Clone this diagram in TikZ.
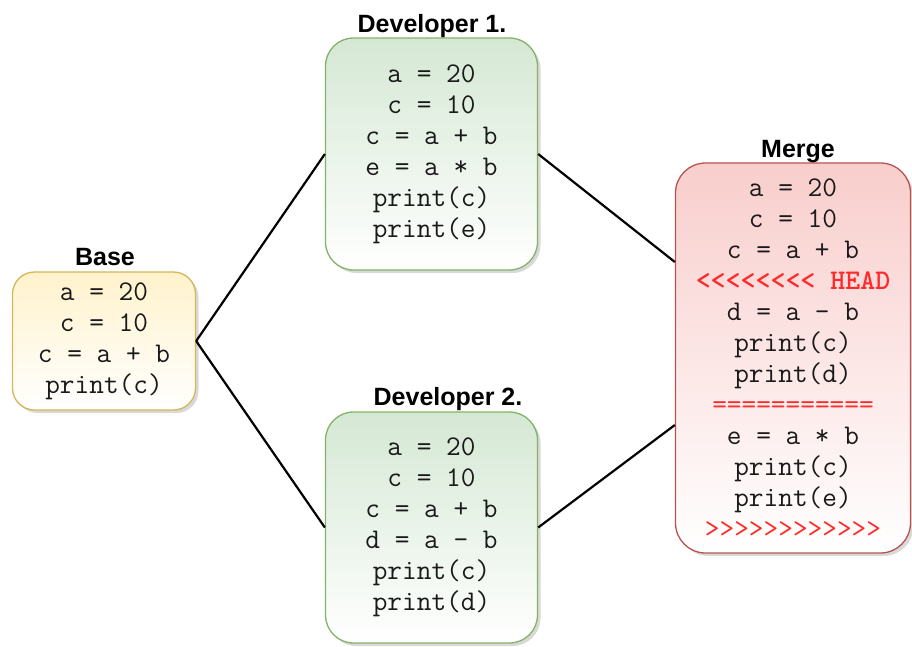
\documentclass[tikz,border=0pt]{standalone}
\usepackage{fontspec}
\setmainfont{Liberation Sans}
\usetikzlibrary{shadows}
\definecolor{basetop}{HTML}{FFF2CC}
\definecolor{baseline}{HTML}{D6B656}
\definecolor{devtop}{HTML}{D5E8D4}
\definecolor{devline}{HTML}{82B366}
\definecolor{mergetop}{HTML}{F8CECC}
\definecolor{mergeline}{HTML}{B85450}
\definecolor{conflict}{HTML}{FF2A2A}
\definecolor{codetext}{HTML}{1A1A1A}
\tikzset{
  codebox/.style={draw, line width=1.3pt, align=center, inner sep=0pt,
    font=\ttfamily\fontsize{28.5}{31}\selectfont, text=codetext,
    bottom color=white,
    drop shadow={shadow xshift=3pt, shadow yshift=-3pt, opacity=0.3, fill=gray}},
  basebox/.style={codebox, top color=basetop, draw=baseline, rounded corners=22pt},
  devbox/.style={codebox, top color=devtop, draw=devline, rounded corners=28pt},
  mergebox/.style={codebox, top color=mergetop, draw=mergeline, rounded corners=30pt},
  title/.style={font=\bfseries\fontsize{25}{28}\selectfont, anchor=base, text=black},
  link/.style={line width=2.2pt, black}
}
\newcommand{\cf}[1]{\textcolor{conflict}{#1}}
\begin{document}
\begin{tikzpicture}[x=1pt,y=-1pt]
\useasboundingbox (0,0) rectangle (912,646);
\node[basebox, minimum width=183pt, minimum height=138pt] (base) at (104,341)
  {a = 20\\c = 10\\c = a + b\\print(c)};
\node[devbox, minimum width=212pt, minimum height=232pt] (dev1) at (431.5,154)
  {a = 20\\c = 10\\c = a + b\\e = a * b\\print(c)\\print(e)};
\node[devbox, minimum width=212pt, minimum height=231pt] (dev2) at (431.5,527.5)
  {a = 20\\c = 10\\c = a + b\\d = a - b\\print(c)\\print(d)};
\node[mergebox, minimum width=235pt, minimum height=390pt] (merge) at (793,358)
  {a = 20\\c = 10\\c = a + b\\\cf{\bfseries<<<<<<<< HEAD}\\d = a - b\\print(c)\\print(d)\\\cf{===========}\\e = a * b\\print(c)\\print(e)\\\cf{>>>>>>>>>>>>}};
\node[title] (tbase) at (105,265) {Base};
\node[title] (tdev1) at (432,32) {Developer 1.};
\node[title] (tdev2) at (448,405) {Developer 2.};
\node[title] (tmerge) at (798,157) {Merge};
\coordinate (m1) at ([yshift=96pt]merge.west);
\coordinate (m2) at ([yshift=-67pt]merge.west);
\draw[link] (base.east) -- (dev1.west);
\draw[link] (base.east) -- (dev2.west);
\draw[link] (dev1.east) -- (m1);
\draw[link] (dev2.east) -- (m2);
\end{tikzpicture}
\end{document}
